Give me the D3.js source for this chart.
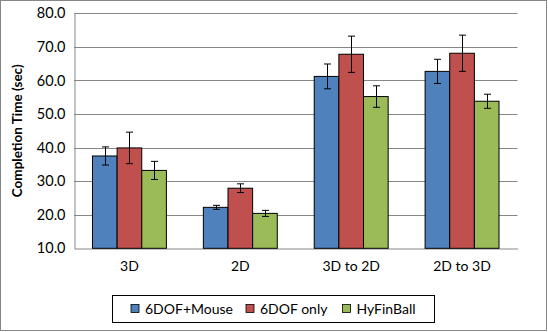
<!DOCTYPE html>
<html><head><meta charset="utf-8">
<script src="https://cdn.jsdelivr.net/npm/d3@7"></script>
<style>body{margin:0;background:#fff}svg{display:block}text{font-family:Lato,"Open Sans",sans-serif}</style>
</head><body><div id="chart"></div>
<script>
const categories = ["3D", "2D", "3D to 2D", "2D to 3D"];
const seriesNames = ["6DOF+Mouse", "6DOF only", "HyFinBall"];
const seriesColors = ["#4F81BD", "#C0504D", "#9BBB59"];
const mouseValues = [37.5, 22.2, 61.2, 62.7];
const mouseErrors = [2.7, 0.6, 3.7, 3.6];
const only6dofValues = [39.9, 27.9, 67.8, 68.1];
const only6dofErrors = [4.7, 1.3, 5.4, 5.4];
const hyfinValues = [33.2, 20.4, 55.2, 53.8];
const hyfinErrors = [2.7, 0.9, 3.2, 2.1];
const yTicks = [10, 20, 30, 40, 50, 60, 70, 80];
const yLabel = "Completion Time (sec)";

const seriesValues = [mouseValues, only6dofValues, hyfinValues];
const seriesErrors = [mouseErrors, only6dofErrors, hyfinErrors];

const W = 548, H = 332;
const m = {left: 74, right: 30.5, top: 13.3, bottom: 83.7};
const svg = d3.select("#chart").append("svg").attr("width", W).attr("height", H);
svg.append("rect").attr("x", 0.5).attr("y", 0.5).attr("width", 546).attr("height", 330)
  .attr("fill", "#fff").attr("stroke", "#868686").attr("stroke-width", 1);

const x0 = d3.scaleBand().domain(categories).range([m.left, W - m.right]).paddingInner(0).paddingOuter(0);
const y = d3.scaleLinear().domain([10, 80]).range([H - m.bottom, m.top]);
const bw = x0.bandwidth() / 4.5;
const x1 = d3.scaleBand().domain(seriesNames).range([x0.bandwidth() * 0.75 / 4.5, x0.bandwidth() * 0.75 / 4.5 + 3 * bw]);

// gridlines
svg.append("g").selectAll("line").data(yTicks.slice(1)).join("line")
  .attr("x1", m.left).attr("x2", W - m.right)
  .attr("y1", d => Math.round(y(d)) + 0.5).attr("y2", d => Math.round(y(d)) + 0.5)
  .attr("stroke", "#868686").attr("stroke-width", 1);

// y axis
const yAxis = svg.append("g").attr("transform", `translate(${m.left + 0.5},0)`)
  .call(d3.axisLeft(y).tickValues(yTicks).tickFormat(d3.format(".1f")).tickSize(0).tickPadding(9));
yAxis.select(".domain").attr("stroke", "#868686");
yAxis.selectAll("text").attr("font-size", 14.5).attr("fill", "#000").style("font-family", "Lato, sans-serif");

// x axis
const xAxis = svg.append("g").attr("transform", `translate(0,${Math.round(y(10)) + 0.5})`)
  .call(d3.axisBottom(x0).tickSize(0).tickPadding(13));
xAxis.select(".domain").attr("stroke", "#868686");
xAxis.selectAll("text").attr("font-size", 14).attr("fill", "#000").style("font-family", "Lato, sans-serif");

// bars
const rows = [];
categories.forEach((c, i) => seriesNames.forEach((s, j) => rows.push({c, s, j, v: seriesValues[j][i], e: seriesErrors[j][i]})));
const g = svg.append("g");
g.selectAll("rect").data(rows).join("rect")
  .attr("x", d => x0(d.c) + x1(d.s))
  .attr("y", d => y(d.v))
  .attr("width", x1.bandwidth())
  .attr("height", d => y(10) - y(d.v))
  .attr("fill", d => seriesColors[d.j])
  .attr("stroke", "#000").attr("stroke-width", 1);

// error bars
const eg = svg.append("g").attr("stroke", "#000").attr("stroke-width", 1);
rows.forEach(d => {
  const cx = Math.round(x0(d.c) + x1(d.s) + x1.bandwidth() / 2) + 0.5;
  const yt = y(d.v + d.e), yb = y(d.v - d.e);
  eg.append("line").attr("x1", cx).attr("x2", cx).attr("y1", yt).attr("y2", yb);
  eg.append("line").attr("x1", cx - 3.5).attr("x2", cx + 3.5).attr("y1", yt).attr("y2", yt);
  eg.append("line").attr("x1", cx - 3.5).attr("x2", cx + 3.5).attr("y1", yb).attr("y2", yb);
});

// y label
svg.append("text").attr("transform", `translate(22,${(m.top + y(10)) / 2}) rotate(-90)`)
  .attr("text-anchor", "middle").attr("font-size", 13.5).attr("font-weight", "bold").attr("fill", "#000")
  .text(yLabel);

// legend
const lg = svg.append("g");
lg.append("rect").attr("x", 112.5).attr("y", 295.5).attr("width", 322).attr("height", 27)
  .attr("fill", "#fff").attr("stroke", "#000").attr("stroke-width", 1);
const legX = [131, 246, 342.5];
seriesNames.forEach((s, j) => {
  lg.append("rect").attr("x", legX[j]).attr("y", 304.5).attr("width", 8).attr("height", 8)
    .attr("fill", seriesColors[j]).attr("stroke", "#000").attr("stroke-width", 0.8);
  lg.append("text").attr("x", legX[j] + 14).attr("y", 313.5).attr("font-size", 14).attr("fill", "#000").text(s);
});
</script></body></html>
